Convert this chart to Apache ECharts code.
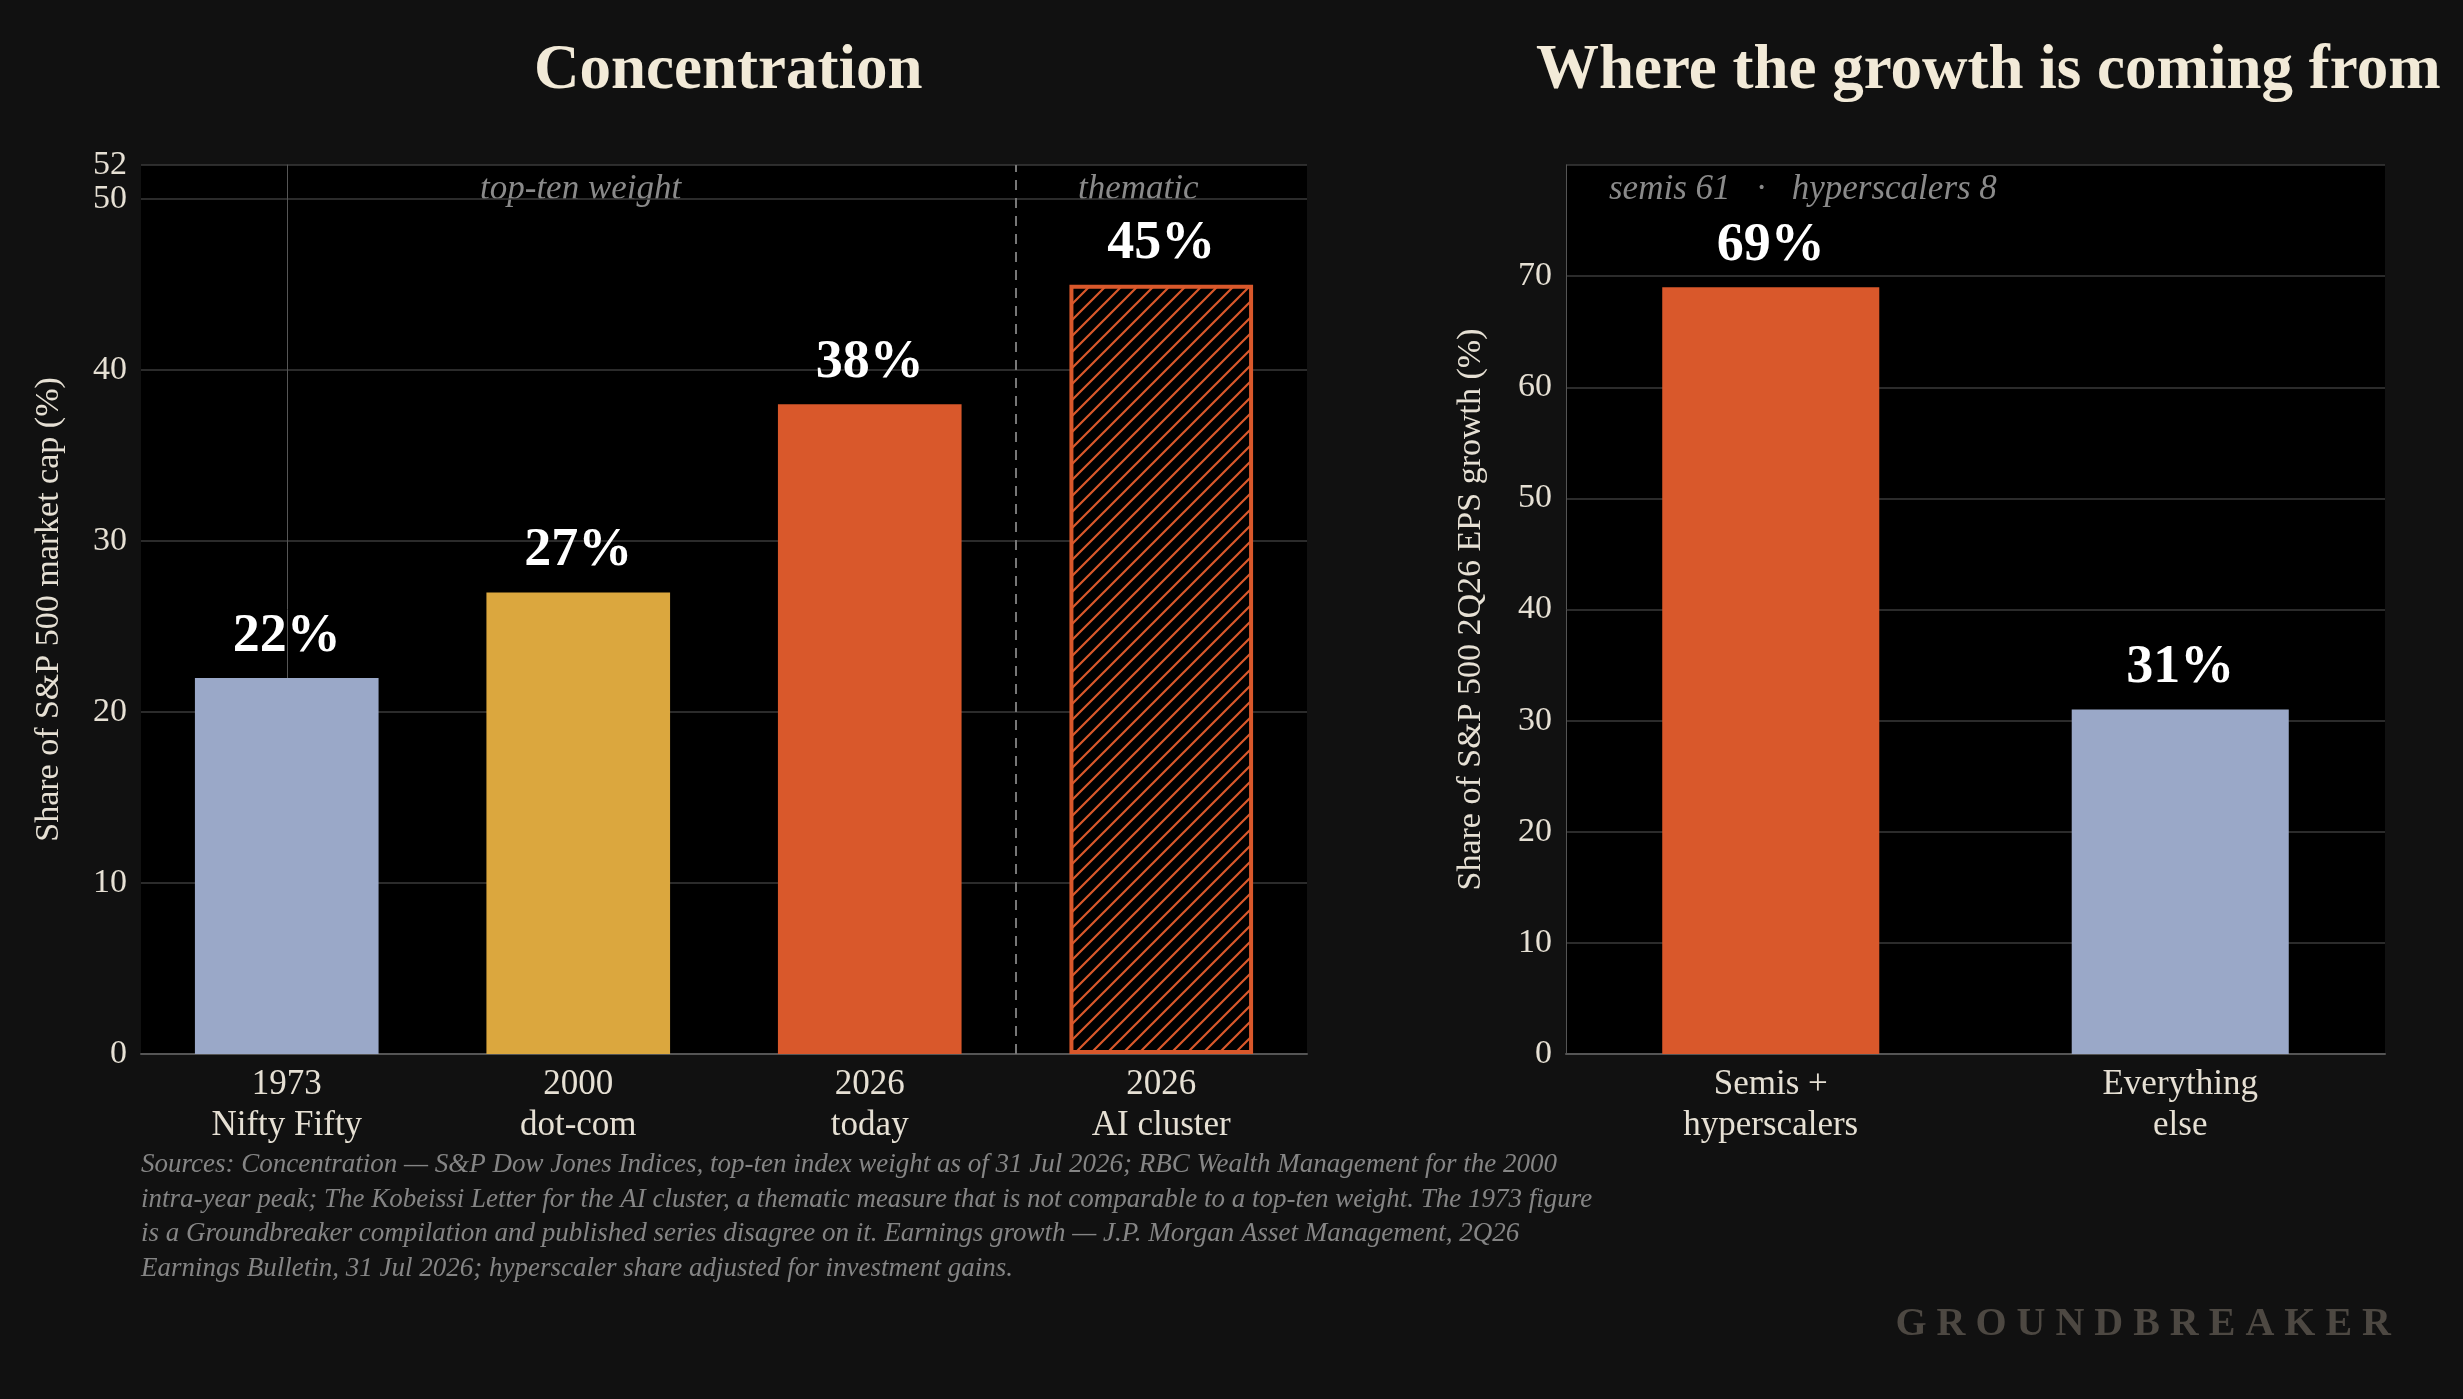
<!DOCTYPE html>
<html>
<head>
<meta charset="UTF-8">
<title>Concentration</title>
<style>
  html, body { margin: 0; padding: 0; background: #111111; }
  #chart { width: 2463px; height: 1399px; }
</style>
</head>
<body>
<div id="chart"></div>
<script src="https://cdn.jsdelivr.net/npm/echarts@6/dist/echarts.min.js"></script>
<script>
var leftCats = ['1973\nNifty Fifty', '2000\ndot-com', '2026\ntoday', '2026\nAI cluster'];
var leftVals = [22, 27, 38, 45];
var rightCats = ['Semis +\nhyperscalers', 'Everything\nelse'];
var rightVals = [69, 31];

var ORANGE = '#d9582b', BLUE = '#9aa8c8', GOLD = '#dba73e';
var CREAM = '#f2ead8', TXT = '#e6e0d4', GRID = '#3a3a3a';
var SERIF = '"Liberation Serif", "DejaVu Serif", serif';

// hatch pattern for the thematic bar
var pc = document.createElement('canvas');
pc.width = 16; pc.height = 16;
var g = pc.getContext('2d');
g.fillStyle = '#000'; g.fillRect(0, 0, 16, 16);
g.strokeStyle = ORANGE; g.lineWidth = 2.2;
g.beginPath();
g.moveTo(0, 16); g.lineTo(16, 0);
g.moveTo(-4, 4); g.lineTo(4, -4);
g.moveTo(12, 20); g.lineTo(20, 12);
g.stroke();

var leftColors = [BLUE, GOLD, ORANGE, { image: pc, repeat: 'repeat' }];

var chart = echarts.init(document.getElementById('chart'));

function yAx(idx, max, name, gap) {
  return {
    type: 'value', gridIndex: idx, min: 0, max: max, interval: 10,
    name: name, nameLocation: 'middle', nameGap: gap,
    nameTextStyle: { color: TXT, fontSize: 34, fontFamily: SERIF },
    axisLine: { show: true, lineStyle: { color: '#555' } },
    axisTick: { show: false },
    splitLine: { lineStyle: { color: GRID, width: 1.5 } },
    axisLabel: { color: TXT, fontSize: 34, fontFamily: SERIF, margin: 14, showMaxLabel: max % 10 === 0 ? false : true }
  };
}
function xAx(idx, cats) {
  return {
    type: 'category', gridIndex: idx, data: cats,
    axisLine: { lineStyle: { color: '#555', width: 2 } },
    axisTick: { show: false },
    axisLabel: { color: TXT, fontSize: 35, lineHeight: 41, fontFamily: SERIF, margin: 10 }
  };
}
var barLabel = { show: true, position: 'top', distance: 14, color: '#ffffff', fontSize: 54, fontWeight: 'bold', fontFamily: SERIF, formatter: '{c}%' };

var option = {
  backgroundColor: '#111111',
  animation: false,
  grid: [
    { left: 141, top: 165, width: 1166, height: 889, backgroundColor: '#000', show: true, borderWidth: 0 },
    { left: 1566, top: 165, width: 819, height: 889, backgroundColor: '#000', show: true, borderWidth: 0 }
  ],
  xAxis: [xAx(0, leftCats), xAx(1, rightCats),
    { type: 'value', gridIndex: 0, min: -0.5, max: 3.5, show: false }],
  yAxis: [yAx(0, 52, 'Share of S&P 500 market cap (%)', 75), yAx(1, 80, 'Share of S&P 500 2Q26 EPS growth (%)', 78)],
  series: [
    {
      type: 'bar', xAxisIndex: 0, yAxisIndex: 0, barWidth: '63%',
      data: leftVals.map(function (v, i) {
        return { value: v, itemStyle: { color: leftColors[i], borderColor: i === 3 ? ORANGE : null, borderWidth: i === 3 ? 4 : 0 } };
      }),
      label: barLabel
    },
    {
      type: 'bar', xAxisIndex: 1, yAxisIndex: 1, barWidth: '53%',
      data: rightVals.map(function (v, i) { return { value: v, itemStyle: { color: i === 0 ? ORANGE : BLUE } }; }),
      label: barLabel
    },
    {
      type: 'scatter', xAxisIndex: 2, yAxisIndex: 0, data: [],
      markLine: {
        silent: true, symbol: 'none', label: { show: false },
        lineStyle: { color: '#777', type: [10, 8], width: 2 },
        data: [{ xAxis: 2.5 }]
      }
    }
  ],
  graphic: [
    { type: 'text', left: 'center', top: 40, style: { text: 'Concentration', fill: CREAM, font: 'bold 63px ' + SERIF, x: 724, textAlign: 'center' }, left: 724 - 190 },
    { type: 'text', top: 40, left: 1536, style: { text: 'Where the growth is coming from', fill: CREAM, font: 'bold 63px ' + SERIF } },
    { type: 'text', left: 480, top: 172, style: { text: 'top-ten weight', fill: '#8a8a8a', font: 'italic 35px ' + SERIF } },
    { type: 'text', left: 1078, top: 172, style: { text: 'thematic', fill: '#8a8a8a', font: 'italic 35px ' + SERIF } },
    { type: 'text', left: 1609, top: 172, style: { text: 'semis 61   ·   hyperscalers 8', fill: '#8a8a8a', font: 'italic 35px ' + SERIF } },
    { type: 'text', left: 141, top: 1148, style: {
      text: 'Sources: Concentration — S&P Dow Jones Indices, top-ten index weight as of 31 Jul 2026; RBC Wealth Management for the 2000\nintra-year peak; The Kobeissi Letter for the AI cluster, a thematic measure that is not comparable to a top-ten weight. The 1973 figure\nis a Groundbreaker compilation and published series disagree on it. Earnings growth — J.P. Morgan Asset Management, 2Q26\nEarnings Bulletin, 31 Jul 2026; hyperscaler share adjusted for investment gains.',
      fill: '#858585', font: 'italic 27px ' + SERIF, lineHeight: 34.5 } },
    { type: 'text', right: 72, top: 1305, style: { text: 'G R O U N D B R E A K E R', fill: '#4d4842', font: 'bold 40px ' + SERIF } }
  ]
};
chart.setOption(option);
</script>
</body>
</html>
